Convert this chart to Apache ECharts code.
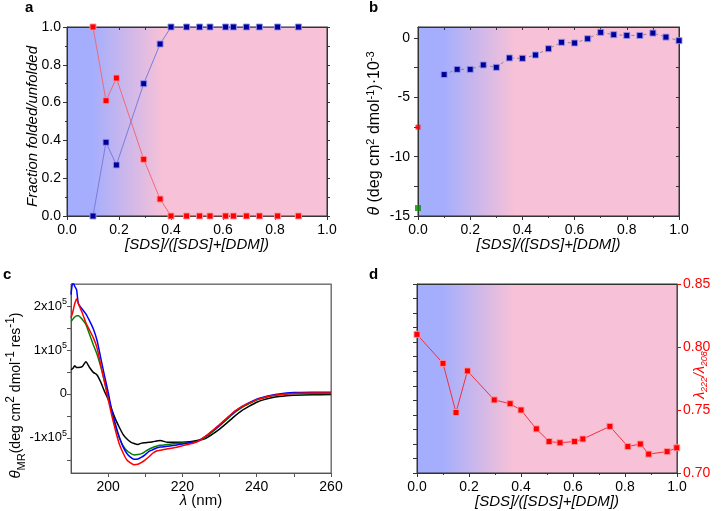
<!DOCTYPE html>
<html><head><meta charset="utf-8">
<script src="https://cdn.jsdelivr.net/npm/echarts@6/dist/echarts.min.js"></script>
<style>html,body{margin:0;padding:0;background:#fff}#c{width:728px;height:511px}</style>
</head><body><div id="c"></div>
<script>
// ---------- Panel a ----------
const xA = [0.10, 0.15, 0.19, 0.295, 0.358, 0.40, 0.46, 0.51, 0.55, 0.61, 0.64, 0.69, 0.74, 0.81, 0.89];
const blueA = [0, 0.39, 0.27, 0.70, 0.91, 1, 1, 1, 1, 1, 1, 1, 1, 1, 1];
const redA  = [1.0, 0.61, 0.73, 0.30, 0.09, 0, 0, 0, 0, 0, 0, 0, 0, 0, 0];
// ---------- Panel b ----------
const xB = [0.10, 0.15, 0.20, 0.25, 0.30, 0.35, 0.40, 0.45, 0.50, 0.55, 0.60, 0.65, 0.70, 0.75, 0.80, 0.85, 0.90, 0.95, 1.00];
const thetaB = [-3.08, -2.64, -2.64, -2.27, -2.47, -1.68, -1.71, -1.43, -0.90, -0.36, -0.42, -0.06, 0.48, 0.28, 0.22, 0.22, 0.42, 0.08, -0.22];
const redB = [[0, -7.51]];
const greenB = [[0, -14.33]];
const yTicksB = [-15, -12.5, -10, -7.5, -5, -2.5, 0];
const yLabelsB = [-15, -10, -5, 0];
// ---------- Panel c ----------
const wl = [190, 190.5, 191, 191.5, 192, 193, 194, 195, 196, 197, 198, 199, 200, 201, 202, 203, 204, 205, 206, 207, 208, 209, 210, 211, 212, 213, 214, 216, 218, 220, 222, 224, 226, 228, 230, 232, 234, 236, 238, 240, 242, 244, 246, 248, 250, 255, 260];
const blueC = [2.26, 2.55, 2.45, 2.37, 2.05, 1.93, 1.82, 1.66, 1.48, 1.22, 0.82, 0.42, 0.04, -0.38, -0.70, -0.98, -1.20, -1.35, -1.44, -1.49, -1.48, -1.44, -1.38, -1.31, -1.27, -1.23, -1.21, -1.19, -1.17, -1.14, -1.11, -1.08, -0.98, -0.85, -0.71, -0.56, -0.41, -0.29, -0.20, -0.12, -0.07, -0.03, 0.00, 0.02, 0.03, 0.04, 0.04];
const redC = [1.73, 1.87, 2.05, 2.16, 2.05, 1.85, 1.62, 1.45, 1.28, 1.05, 0.66, 0.28, -0.12, -0.50, -0.84, -1.14, -1.34, -1.50, -1.57, -1.61, -1.60, -1.56, -1.50, -1.43, -1.35, -1.30, -1.28, -1.25, -1.22, -1.18, -1.14, -1.09, -0.98, -0.84, -0.70, -0.55, -0.40, -0.29, -0.21, -0.13, -0.08, -0.045, -0.02, 0.00, 0.01, 0.02, 0.02];
const greenC = [1.65, 1.70, 1.75, 1.78, 1.78, 1.70, 1.58, 1.35, 1.12, 0.90, 0.62, 0.29, -0.06, -0.42, -0.75, -1.00, -1.18, -1.29, -1.35, -1.39, -1.38, -1.36, -1.31, -1.26, -1.22, -1.19, -1.17, -1.15, -1.13, -1.12, -1.11, -1.08, -1.00, -0.87, -0.73, -0.58, -0.43, -0.31, -0.22, -0.14, -0.09, -0.05, -0.02, 0.00, 0.01, 0.01, 0.01];
const blackC = [0.55, 0.58, 0.64, 0.60, 0.60, 0.62, 0.73, 0.60, 0.49, 0.43, 0.27, 0.06, -0.12, -0.36, -0.58, -0.76, -0.92, -1.02, -1.09, -1.13, -1.15, -1.12, -1.11, -1.10, -1.09, -1.07, -1.06, -1.10, -1.10, -1.10, -1.09, -1.06, -1.02, -0.92, -0.80, -0.66, -0.51, -0.38, -0.28, -0.19, -0.13, -0.09, -0.06, -0.04, -0.03, -0.02, -0.015];
const xTicksC = [200, 210, 220, 230, 240, 250, 260];
const xLabelsC = [200, 220, 240, 260];
const yTicksC = [-1.5, -1, -0.5, 0, 0.5, 1, 1.5, 2];
const yLabelsC = [-1, 0, 1, 2];
// ---------- Panel d ----------
const xD = [0.00, 0.10, 0.15, 0.194, 0.297, 0.358, 0.40, 0.459, 0.508, 0.55, 0.606, 0.638, 0.742, 0.811, 0.859, 0.891, 0.962, 0.999];
const ratioD = [0.810, 0.787, 0.748, 0.781, 0.758, 0.755, 0.750, 0.735, 0.725, 0.724, 0.725, 0.727, 0.737, 0.721, 0.723, 0.715, 0.717, 0.720];

const zip = (xs, ys) => xs.map((x, i) => [x, ys[i]]);
const FONT = 'Liberation Sans, Arial, sans-serif';
const BLUE_BG = '#a5aefd', PINK_BG = '#f7c1d7';
const bg = () => new echarts.graphic.LinearGradient(0, 0, 1, 0, [
  {offset: 0, color: BLUE_BG}, {offset: 0.1, color: BLUE_BG},
  {offset: 0.37, color: PINK_BG}, {offset: 1, color: PINK_BG}]);
const AXC = '#333';
const supRich = {
  i: {fontStyle: 'italic', fontSize: 16, lineHeight: 20, fontFamily: FONT},
  sup: {fontSize: 11, lineHeight: 10, verticalAlign: 'top', fontFamily: FONT},
  sub: {fontSize: 10, lineHeight: 10, verticalAlign: 'bottom', fontFamily: FONT}
};

function bottomX(grid, min, max, extra) {
  return Object.assign({
    type: 'value', gridIndex: grid, position: 'bottom', min, max,
    axisLine: {show: true, onZero: false, lineStyle: {color: AXC, width: 1}},
    axisTick: {show: true, inside: false, length: 4, lineStyle: {color: AXC}},
    axisLabel: {color: '#000', fontSize: 14, margin: 7, fontFamily: FONT},
    splitLine: {show: false},
    nameLocation: 'middle', nameGap: 21, nameMoveOverlap: false,
    nameTextStyle: {color: '#000', fontSize: 15, fontStyle: 'italic', fontFamily: FONT}
  }, extra);
}
function topX(grid, min, max, extra) {
  return Object.assign({
    type: 'value', gridIndex: grid, position: 'top', min, max,
    axisLine: {show: true, onZero: false, lineStyle: {color: AXC}},
    axisTick: {show: false},
    axisLabel: {show: false}, splitLine: {show: false}
  }, extra);
}
function leftY(grid, min, max, extra) {
  return Object.assign({
    type: 'value', gridIndex: grid, position: 'left', min, max,
    axisLine: {show: true, onZero: false, lineStyle: {color: AXC}},
    axisTick: {show: true, inside: false, length: 4, lineStyle: {color: AXC}},
    axisLabel: {color: '#000', fontSize: 14, margin: 6, fontFamily: FONT},
    splitLine: {show: false},
    nameLocation: 'middle', nameRotate: 90, nameMoveOverlap: false,
    nameTextStyle: {color: '#000', fontSize: 15, fontFamily: FONT}
  }, extra);
}
function rightY(grid, min, max, extra) {
  return Object.assign({
    type: 'value', gridIndex: grid, position: 'right', min, max,
    axisLine: {show: true, onZero: false, lineStyle: {color: AXC}},
    axisTick: {show: false},
    axisLabel: {show: false}, splitLine: {show: false}
  }, extra);
}

const gridBase = {show: true, borderColor: AXC, borderWidth: 1, containLabel: false};
const option = {
  animation: false,
  textStyle: {fontFamily: FONT},
  grid: [
    Object.assign({left: 67, top: 27, width: 260, height: 189, backgroundColor: bg()}, gridBase),
    Object.assign({left: 418, top: 27, width: 261, height: 189, backgroundColor: bg()}, gridBase),
    Object.assign({}, gridBase, {left: 71, top: 284, width: 260, height: 189, backgroundColor: '#fff', borderColor: '#666'}),
    Object.assign({left: 417, top: 284, width: 260, height: 189, backgroundColor: bg()}, gridBase)
  ],
  xAxis: [
    bottomX(0, 0, 1, {interval: 0.2, minorTick: {show: true, splitNumber: 2, length: 2, lineStyle: {color: AXC}},
      axisLabel: {color: '#000', fontSize: 14, margin: 7, fontFamily: FONT, formatter: v => v.toFixed(1)},
      name: '[SDS]/([SDS]+[DDM])'}),
    topX(0, 0, 1, {interval: 0.1, axisTick: {show: true, inside: true, length: 3, lineStyle: {color: AXC}}}),
    bottomX(1, 0, 1, {interval: 0.2, minorTick: {show: true, splitNumber: 2, length: 2, lineStyle: {color: AXC}},
      axisLabel: {color: '#000', fontSize: 14, margin: 7, fontFamily: FONT, formatter: v => v.toFixed(1)},
      name: '[SDS]/([SDS]+[DDM])'}),
    topX(1, 0, 1, {interval: 0.1, axisTick: {show: true, inside: true, length: 3, lineStyle: {color: AXC}}}),
    bottomX(2, 190, 260, {
      axisLine: {show: true, onZero: false, lineStyle: {color: '#555'}},
      axisTick: {show: true, length: 4, customValues: xTicksC, lineStyle: {color: '#555'}},
      axisLabel: {color: '#000', fontSize: 14, margin: 7, fontFamily: FONT, customValues: xLabelsC},
      name: '{i|λ} (nm)', nameGap: 20,
      nameTextStyle: {color: '#000', fontSize: 15, fontFamily: FONT,
        rich: {i: {fontStyle: 'italic', fontSize: 15, fontFamily: FONT}}}}),
    topX(2, 190, 260, {axisLine: {show: true, onZero: false, lineStyle: {color: '#777'}}}),
    bottomX(3, 0, 1, {interval: 0.2, minorTick: {show: true, splitNumber: 2, length: 2, lineStyle: {color: AXC}},
      axisLabel: {color: '#000', fontSize: 14, margin: 7, fontFamily: FONT, formatter: v => v.toFixed(1)},
      name: '[SDS]/([SDS]+[DDM])'}),
    topX(3, 0, 1, {})
  ],
  yAxis: [
    leftY(0, 0, 1, {interval: 0.2, minorTick: {show: true, splitNumber: 2, length: 2, lineStyle: {color: AXC}},
      axisLabel: {color: '#000', fontSize: 14, margin: 6, fontFamily: FONT, formatter: v => v.toFixed(1)},
      name: 'Fraction folded/unfolded', nameGap: 27,
      nameTextStyle: {color: '#000', fontSize: 15, fontStyle: 'italic', fontFamily: FONT, padding: [0, 10, 0, 0]}}),
    rightY(0, 0, 1, {interval: 0.1, axisTick: {show: true, inside: false, length: 3, lineStyle: {color: AXC}}}),
    leftY(1, -15, 0.93, {
      axisTick: {show: true, length: 4, customValues: yTicksB, lineStyle: {color: AXC}},
      axisLabel: {color: '#000', fontSize: 14, margin: 8, fontFamily: FONT, customValues: yLabelsB},
      name: '{i|θ} (deg cm{sup|2} dmol{sup|-1})·10{sup|-3}', nameGap: 33,
      nameTextStyle: {color: '#000', fontSize: 16, lineHeight: 20, fontFamily: FONT, rich: supRich, padding: [0, 24, 0, 0]}}),
    rightY(1, -15, 0.93, {axisTick: {show: true, inside: true, length: 3, customValues: yTicksB, lineStyle: {color: AXC}}}),
    leftY(2, -1.8, 2.5, {
      axisLine: {show: true, onZero: false, lineStyle: {color: '#555'}},
      axisTick: {show: true, length: 4, customValues: yTicksC, lineStyle: {color: '#555'}},
      axisLabel: {color: '#000', fontSize: 13, lineHeight: 18, margin: 4, fontFamily: FONT, customValues: yLabelsC,
        formatter: v => v === 0 ? '0' : (v + 'x10{sup|5}'),
        rich: {sup: {fontSize: 9, lineHeight: 9, verticalAlign: 'top', fontFamily: FONT}}},
      name: '{i|θ}{sub|MR}(deg cm{sup|2} dmol{sup|-1} res{sup|-1})', nameGap: 44,
      nameTextStyle: {color: '#000', fontSize: 14, lineHeight: 22, fontFamily: FONT, padding: [0, 34, 0, 0],
        rich: {
          i: {fontStyle: 'italic', fontSize: 15, lineHeight: 22, fontFamily: FONT},
          sup: {fontSize: 12, lineHeight: 12, verticalAlign: 'top', fontFamily: FONT},
          sub: {fontSize: 11, lineHeight: 11, verticalAlign: 'bottom', fontFamily: FONT}
        }}}),
    rightY(2, -1.8, 2.5, {axisLine: {show: true, onZero: false, lineStyle: {color: '#777'}}}),
    leftY(3, 0, 13, {interval: 1, axisLabel: {show: false}}),
    {
      type: 'value', gridIndex: 3, position: 'right', min: 0.70, max: 0.85, interval: 0.05,
      axisLine: {show: true, onZero: false, lineStyle: {color: '#ff0000'}},
      axisTick: {show: true, inside: false, length: 4, lineStyle: {color: '#ff0000'}},
      axisLabel: {color: '#ff0000', fontSize: 14, margin: 6, fontFamily: FONT, formatter: v => v.toFixed(2)},
      splitLine: {show: false},
      name: '{i|λ}{sub|222}{i|/λ}{sub|208}', nameLocation: 'middle', nameRotate: 90, nameGap: 14,
      nameMoveOverlap: false,
      nameTextStyle: {color: '#ff0000', fontSize: 14, lineHeight: 18, fontFamily: FONT, padding: [0, 0, 0, 7],
        rich: {
          i: {fontStyle: 'italic', fontSize: 14, lineHeight: 18, color: '#ff0000', fontFamily: FONT},
          sub: {fontStyle: 'italic', fontSize: 9, lineHeight: 9, verticalAlign: 'bottom', color: '#ff0000', fontFamily: FONT}
        }}
    }
  ],
  series: [
    {type: 'line', xAxisIndex: 0, yAxisIndex: 0, data: zip(xA, redA), symbol: 'rect', symbolSize: 6,
      lineStyle: {color: '#ee6a78', width: 1}, itemStyle: {color: '#ff0000', borderColor: 'rgba(255,150,160,0.9)', borderWidth: 1}},
    {type: 'line', xAxisIndex: 0, yAxisIndex: 0, data: zip(xA, blueA), symbol: 'rect', symbolSize: 6,
      lineStyle: {color: '#7b7be0', width: 1}, itemStyle: {color: '#000099', borderColor: 'rgba(150,150,240,0.9)', borderWidth: 1}},
    {type: 'line', xAxisIndex: 2, yAxisIndex: 2, data: zip(xB, thetaB), symbol: 'rect', symbolSize: 6,
      lineStyle: {color: '#888', width: 1, type: [3, 3]}, itemStyle: {color: '#000099', borderColor: 'rgba(150,150,240,0.9)', borderWidth: 1}},
    {type: 'scatter', xAxisIndex: 2, yAxisIndex: 2, data: redB, symbol: 'rect', symbolSize: 5, itemStyle: {color: '#ff0000'}},
    {type: 'scatter', xAxisIndex: 2, yAxisIndex: 2, data: greenB, symbol: 'rect', symbolSize: 6, itemStyle: {color: '#0a8a0a'}},
    {type: 'line', xAxisIndex: 4, yAxisIndex: 4, data: zip(wl, blackC), showSymbol: false, smooth: 0.2, lineStyle: {color: '#000', width: 1.5}},
    {type: 'line', xAxisIndex: 4, yAxisIndex: 4, data: zip(wl, greenC), showSymbol: false, smooth: 0.2, lineStyle: {color: '#008000', width: 1.5}},
    {type: 'line', xAxisIndex: 4, yAxisIndex: 4, data: zip(wl, blueC), showSymbol: false, smooth: 0.2, lineStyle: {color: '#0000ff', width: 1.5}},
    {type: 'line', xAxisIndex: 4, yAxisIndex: 4, data: zip(wl, redC), showSymbol: false, smooth: 0.2, lineStyle: {color: '#ff0000', width: 1.5}},
    {type: 'line', xAxisIndex: 6, yAxisIndex: 7, data: zip(xD, ratioD), symbol: 'rect', symbolSize: 6,
      lineStyle: {color: '#f03040', width: 1}, itemStyle: {color: '#ff0000', borderColor: 'rgba(255,150,160,0.9)', borderWidth: 1}}
  ],
  graphic: [
    {type: 'text', left: 25, top: 0, style: {text: 'a', font: 'bold 15px ' + FONT, fill: '#000'}},
    {type: 'text', left: 369, top: 0, style: {text: 'b', font: 'bold 15px ' + FONT, fill: '#000'}},
    {type: 'text', left: 3, top: 267, style: {text: 'c', font: 'bold 15px ' + FONT, fill: '#000'}},
    {type: 'text', left: 369, top: 267, style: {text: 'd', font: 'bold 15px ' + FONT, fill: '#000'}}
  ]
};
const chart = echarts.init(document.getElementById('c'), null, {renderer: 'canvas'});
chart.setOption(option);
</script></body></html>
